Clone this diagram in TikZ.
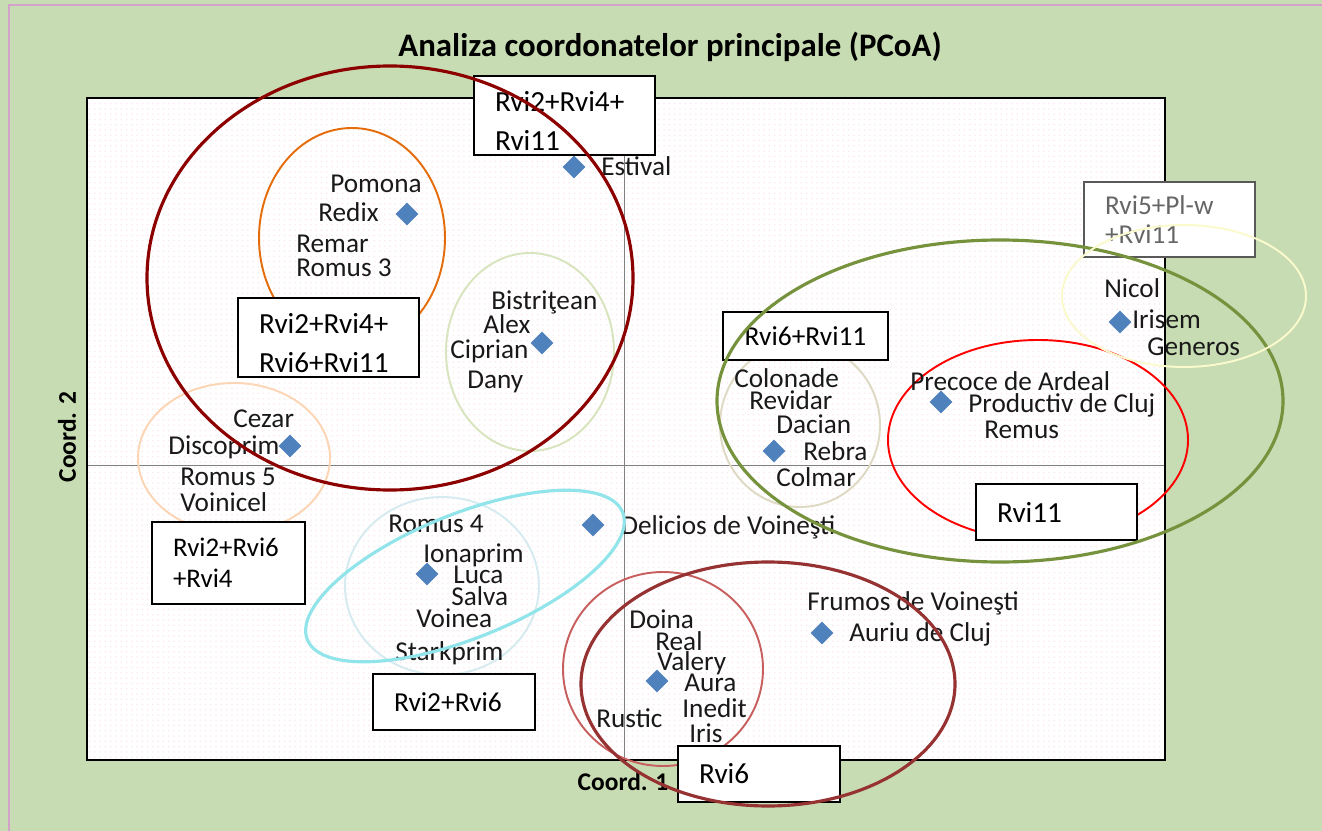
\documentclass[tikz,border=0pt]{standalone}
\usepackage{fontspec}
\setmainfont{Carlito}
\usetikzlibrary{shapes.geometric,patterns}

\definecolor{bggreen}{RGB}{200,220,179}
\definecolor{frame}{RGB}{212,162,200}
\definecolor{markblue}{RGB}{79,129,189}
\definecolor{dred}{RGB}{140,0,0}
\definecolor{orng}{RGB}{228,108,10}
\definecolor{lgreen}{RGB}{215,228,189}
\definecolor{peach}{RGB}{252,213,181}
\definecolor{cyanl}{RGB}{145,228,234}
\definecolor{lblue}{RGB}{213,235,240}
\definecolor{olive}{RGB}{118,146,60}
\definecolor{cream}{RGB}{250,250,205}
\definecolor{beige}{RGB}{221,217,195}
\definecolor{rosy}{RGB}{200,95,95}
\definecolor{dbrown}{RGB}{150,50,50}
\definecolor{dots}{RGB}{253,232,238}

\newcommand{\lbfont}{\fontsize{15.5}{18}\selectfont}
\newcommand{\tagfont}{\fontsize{15.6}{20}\selectfont}
\newcommand{\bigtagfont}{\fontsize{16.6}{22}\selectfont}

\tikzset{
  lab/.style={anchor=west, inner sep=0pt, text height=11pt, text depth=3pt, font=\lbfont, text=black!90},
  mk/.style={diamond, fill=markblue, inner sep=0pt, minimum size=0.46cm},
  tag/.style={draw=black, line width=1.2pt, fill=white, align=left, inner xsep=0.42cm, font=\tagfont},
  grp/.style={line width=1.1pt},
  grpthick/.style={line width=1.8pt}
}

\begin{document}
\begin{tikzpicture}[x=0.02cm,y=-0.02cm]
\useasboundingbox (0,0) rectangle (1322,831);
\fill[bggreen] (0,0) rectangle (1322,831);
\draw[frame, line width=1.7pt] (9,831)--(9,5)--(1322,5);

% plot area
\fill[white] (87,98) rectangle (1165,760);
\fill[pattern=dots, pattern color=dots] (87,98) rectangle (1165,760);
\draw[gray, line width=0.5pt] (87,465)--(1165,465);
\draw[gray, line width=0.5pt] (624,98)--(624,760);
\draw[black, line width=1.5pt] (87,98) rectangle (1165,760);

\node[font=\fontsize{18.7}{22}\selectfont\bfseries] (title) at (670,47) {Analiza coordonatelor principale (PCoA)};
\node[font=\fontsize{14.5}{17}\selectfont\bfseries] (xlab) at (623,782) {Coord. 1};
\node[font=\fontsize{14.5}{17}\selectfont\bfseries, rotate=90] (ylab) at (67,437) {Coord. 2};

% thin group circles
\draw[orng, grp] (352,238) ellipse [x radius=93, y radius=110];
\draw[lgreen, grp] (530,352) ellipse [x radius=84, y radius=99];
\draw[peach, grp] (234,458) ellipse [x radius=96, y radius=75];
\draw[lblue, grp] (442,586) ellipse [x radius=97, y radius=89];
\draw[beige, grp] (800,425) ellipse [x radius=80, y radius=82];
\draw[red, grp] (1038,440) ellipse [x radius=150, y radius=100];
\draw[rosy, grp] (663,669) ellipse [x radius=100, y radius=97];

% markers
\node[mk] (estival) at (574,167) {};
\node[mk] (redix) at (407,214) {};
\node[mk] (bistr) at (542,343) {};
\node[mk] (cezar) at (290,446) {};
\node[mk] (delicios) at (593,525) {};
\node[mk] (luca) at (427,574) {};
\node[mk] (aura) at (657,681) {};
\node[mk] (auriu) at (822,633) {};
\node[mk] (rebra) at (774,451) {};
\node[mk] (productiv) at (941,402) {};
\node[mk] (irisem) at (1120,322) {};

% labels
\node[lab] (l-estival) at (601,168) {Estival};
\node[lab] (l-pomona) at (330,185) {Pomona};
\node[lab] (l-redix) at (318,214) {Redix};
\node[lab] (l-remar) at (296,245) {Remar};
\node[lab] (l-romus3) at (296,269) {Romus 3};
\node[lab] (l-bistr) at (491,302) {Bistriţean};
\node[lab] (l-alex) at (483,326) {Alex};
\node[lab] (l-ciprian) at (450,351) {Ciprian};
\node[lab] (l-dany) at (467,381) {Dany};
\node[lab] (l-cezar) at (233,420) {Cezar};
\node[lab] (l-discoprim) at (168,447) {Discoprim};
\node[lab] (l-romus5) at (180,478) {Romus 5};
\node[lab] (l-voinicel) at (180,504) {Voinicel};
\node[lab] (l-romus4) at (388,525) {Romus 4};
\node[lab] (l-ionaprim) at (423,555) {Ionaprim};
\node[lab] (l-luca) at (453,576) {Luca};
\node[lab] (l-salva) at (451,598) {Salva};
\node[lab] (l-voinea) at (416,620) {Voinea};
\node[lab] (l-starkprim) at (395,653) {Starkprim};
\node[lab] (l-delicios) at (621,527) {Delicios de Voineşti};
\node[lab] (l-doina) at (629,621) {Doina};
\node[lab] (l-real) at (655,643) {Real};
\node[lab] (l-valery) at (657,663) {Valery};
\node[lab] (l-aura) at (684,684) {Aura};
\node[lab] (l-inedit) at (682,710) {Inedit};
\node[lab] (l-iris) at (689,735) {Iris};
\node[lab] (l-rustic) at (596,720) {Rustic};
\node[lab] (l-frumos) at (807,603) {Frumos de Voineşti};
\node[lab] (l-auriu) at (849,634) {Auriu de Cluj};
\node[lab] (l-colonade) at (734,380) {Colonade};
\node[lab] (l-revidar) at (749,402) {Revidar};
\node[lab] (l-dacian) at (776,426) {Dacian};
\node[lab] (l-rebra) at (803,453) {Rebra};
\node[lab] (l-colmar) at (776,479) {Colmar};
\node[lab] (l-precoce) at (910,383) {Precoce de Ardeal};
\node[lab] (l-productiv) at (968,405) {Productiv de Cluj};
\node[lab] (l-remus) at (984,431) {Remus};
\node[lab] (l-nicol) at (1104,290) {Nicol};
\node[lab] (l-irisem) at (1132,321) {Irisem};
\node[lab] (l-generos) at (1147,348) {Generos};

% group tags
\node[tag, font=\bigtagfont, inner ysep=0pt, minimum width=3.62cm, minimum height=1.58cm, text width=2.78cm] (t-est) at (564.5,115.5) {\rule{0pt}{18pt}Rvi2+Rvi4+\\Rvi11};
\node[tag, font=\bigtagfont, inner ysep=0pt, minimum width=3.62cm, minimum height=1.58cm, text width=2.78cm] (t-big) at (328.5,337.5) {\rule{0pt}{18pt}Rvi2+Rvi4+\\Rvi6+Rvi11};
\node[tag, draw=black!65, text=black!60, minimum width=3.42cm, minimum height=1.5cm, text width=2.58cm, font=\fontsize{15.5}{17}\selectfont] (t-nicol) at (1169.5,219.5) {Rvi5+Pl-w\\+Rvi11};
\node[tag, align=center, minimum width=3.3cm, minimum height=0.96cm, text width=2.46cm] (t-reb) at (805.5,336) {Rvi6+Rvi11};
\node[tag, font=\bigtagfont, minimum width=3.22cm, minimum height=1.12cm, text width=2.38cm] (t-prod) at (1056.5,512) {Rvi11};
\node[tag, minimum width=3.06cm, minimum height=1.64cm, text width=2.22cm, font=\fontsize{15.3}{17.8}\selectfont] (t-cez) at (228.5,563) {Rvi2+Rvi6\\+Rvi4};
\node[tag, minimum width=3.24cm, minimum height=1.12cm, text width=2.4cm] (t-luca) at (454,702) {Rvi2+Rvi6};
\node[tag, font=\bigtagfont, minimum width=3.24cm, minimum height=1.12cm, text width=2.4cm] (t-aura) at (759,774) {Rvi6};

% thick group ellipses
\draw[dred, grpthick] (390,278) ellipse [x radius=243, y radius=212];
\draw[olive, grpthick] (1000,401) ellipse [x radius=283, y radius=161];
\draw[cream, grp] (1184,296) ellipse [x radius=122, y radius=71];
\draw[cyanl, grpthick, rotate around={22:(465,576)}] (465,576) ellipse [x radius=170, y radius=62];
\draw[dbrown, grpthick] (768,684) ellipse [x radius=187, y radius=122];
\end{tikzpicture}
\end{document}
